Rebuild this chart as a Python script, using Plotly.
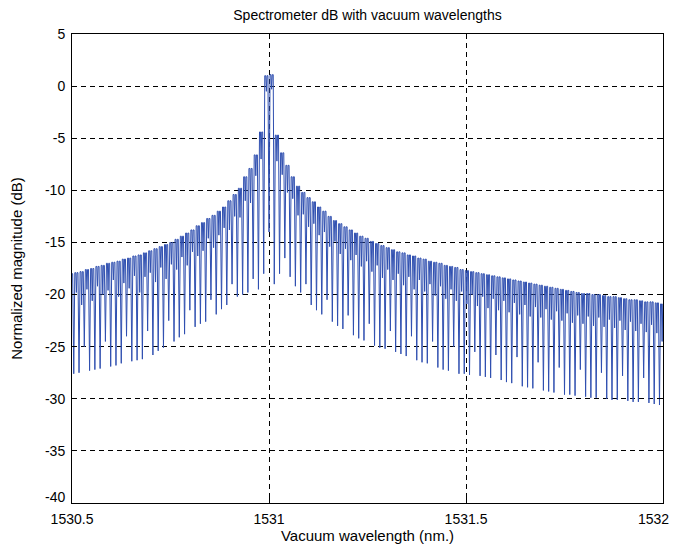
import numpy as np
import plotly.graph_objects as go

# ---- data ----
# Fringe spacing of the spectrum (nm) and the wavelength of the central dip
FRINGE_PERIOD_NM = 0.013393
CENTER_DIP_NM = 1531.0
CENTER_INDEX = 37

# Top (maximum) level of each fringe, dB, left to right
top_db = [
    -18.0, -17.9, -17.8, -17.6, -17.5, -17.3, -17.2, -17.0, -16.9, -16.8,
    -16.6, -16.5, -16.3, -16.2, -16.0, -15.8, -15.6, -15.4, -15.2, -15.0,
    -14.7, -14.4, -14.1, -13.8, -13.4, -13.1, -12.7, -12.4, -12.0, -11.6,
    -11.0, -10.4, -9.8, -8.7, -7.9, -6.6, -4.4, 1.0, 1.1, -4.7,
    -6.4, -7.6, -8.7, -9.6, -10.2, -10.7, -11.1, -11.6, -12.0, -12.5,
    -12.9, -13.2, -13.5, -13.8, -14.1, -14.4, -14.6, -14.9, -15.1, -15.3,
    -15.5, -15.7, -15.9, -16.0, -16.2, -16.3, -16.5, -16.6, -16.8, -16.9,
    -17.0, -17.2, -17.3, -17.4, -17.6, -17.7, -17.8, -17.9, -18.0, -18.1,
    -18.2, -18.3, -18.4, -18.5, -18.6, -18.7, -18.8, -18.9, -19.0, -19.1,
    -19.2, -19.3, -19.4, -19.5, -19.6, -19.7, -19.8, -19.9, -19.9, -20.0,
    -20.0, -20.1, -20.2, -20.2, -20.3, -20.4, -20.5, -20.5, -20.6, -20.7,
    -20.7, -20.8, -20.9,
]

# Small dip in the middle of each fringe top, dB
notch_db = [
    -20.5, -19.8, -21.0, -19.5, -20.6, -19.2, -20.0, -19.6, -18.6, -20.2,
    -18.9, -19.4, -18.2, -19.8, -18.3, -17.9, -18.8, -17.4, -18.5, -17.1,
    -17.6, -16.4, -17.2, -15.9, -16.3, -15.8, -14.6, -15.5, -14.3, -13.6,
    -13.8, -12.5, -12.6, -11.0, -11.2, -8.6, -7.0, -0.5, -0.3, -7.2,
    -8.5, -10.2, -10.8, -12.4, -12.3, -13.5, -13.2, -14.3, -14.0, -15.4,
    -14.9, -16.1, -15.6, -16.7, -16.2, -17.3, -16.8, -17.8, -17.2, -18.4,
    -17.6, -18.6, -18.0, -19.1, -18.3, -19.5, -18.6, -19.7, -19.0, -20.1,
    -19.2, -20.4, -19.5, -20.6, -19.7, -20.9, -20.0, -21.1, -20.2, -21.3,
    -20.4, -21.5, -20.6, -21.7, -20.8, -21.9, -21.0, -22.1, -21.2, -22.2,
    -21.4, -22.4, -21.6, -22.5, -21.8, -22.7, -22.0, -22.8, -22.1, -23.0,
    -22.2, -23.1, -22.4, -23.2, -22.5, -23.4, -22.6, -23.5, -22.8, -23.6,
    -22.9, -23.7, -24.5,
]

# Bottom (deep dip) level after each fringe, dB, left to right
dip_db = [
    -27.6, -27.5, -25.0, -27.3, -27.2, -27.1, -24.5, -26.9, -26.8, -26.6,
    -24.0, -26.4, -26.3, -26.2, -23.5, -25.8, -25.4, -25.1, -22.5, -24.5,
    -24.1, -23.8, -21.5, -23.1, -22.8, -22.6, -20.5, -21.9, -21.4, -21.0,
    -19.0, -20.2, -20.0, -19.8, -18.5, -19.5, -18.0, -14.0, -19.0, -18.0,
    -16.5, -18.3, -19.2, -19.8, -19.0, -21.0, -21.5, -21.9, -20.5, -22.6,
    -23.0, -23.3, -22.0, -23.9, -24.2, -24.4, -22.8, -24.9, -25.1, -25.2,
    -23.5, -25.5, -25.7, -25.9, -24.0, -26.3, -26.5, -26.6, -24.5, -27.0,
    -27.2, -27.3, -25.0, -27.6, -27.6, -27.7, -25.5, -27.8, -27.9, -28.0,
    -25.8, -28.2, -28.4, -28.5, -26.0, -28.8, -28.9, -29.0, -26.5, -29.2,
    -29.3, -29.4, -27.0, -29.6, -29.6, -29.7, -27.2, -29.8, -29.9, -29.9,
    -27.5, -30.0, -30.1, -30.1, -27.8, -30.2, -30.3, -30.3, -28.0, -30.4,
    -30.5, -30.6,
]

x_tick_vals = [1530.5, 1531, 1531.5, 1532]
x_tick_text = ["1530.5", "1531", "1531.5", ""]
x_right_label = "1532"
y_tick_vals = [5, 0, -5, -10, -15, -20, -25, -30, -35, -40]
y_tick_text = ["5", "0", "-5", "-10", "-15", "-20", "-25", "-30", "-35", ""]
y_bottom_label = "-40"

# ---- build the trace: each fringe = two-humped top followed by a narrow dip ----
wl, db = [], []
for m, top in enumerate(top_db):
    c = CENTER_DIP_NM + (m - CENTER_INDEX - 0.5) * FRINGE_PERIOD_NM
    p = FRINGE_PERIOD_NM
    wl += [c - 0.3 * p, c - 0.12 * p, c, c + 0.12 * p, c + 0.3 * p]
    db += [top, top, notch_db[m], top, top]
    if m < len(dip_db):
        wl.append(c + 0.5 * p)
        db.append(dip_db[m])

fig = go.Figure()
fig.add_trace(go.Scatter(
    x=wl, y=db, mode="lines",
    line=dict(color="#2f4fb0", width=1),
    hoverinfo="skip", showlegend=False,
))

font_family = "Liberation Sans, Arial, sans-serif"
tick_font = dict(family=font_family, size=14, color="black")
axis_common = dict(
    showline=True, linecolor="black", linewidth=1, mirror="ticks",
    ticks="inside", ticklen=5, tickcolor="black",
    showgrid=True, gridcolor="black", gridwidth=0.8, griddash="5px,4px",
    zeroline=False, automargin=False,
    tickfont=tick_font,
)

# The page body adds an 8 px offset on every side, so the figure is made
# smaller to fit the window without scrollbars.
fig.update_layout(
    width=672, height=536,
    margin=dict(l=64, r=17, t=26, b=41),
    paper_bgcolor="white", plot_bgcolor="white",
    title=dict(text="Spectrometer dB with vacuum wavelengths",
               xref="paper", x=0.5, xanchor="center",
               yref="container", y=1 - 2 / 536, yanchor="top",
               font=dict(family=font_family, size=14, color="black")),
    xaxis=dict(range=[1530.5, 1532], tickvals=x_tick_vals, ticktext=x_tick_text,
               ticklabelstandoff=3,
               title=dict(text="Vacuum wavelength (nm.)", standoff=5,
                          font=dict(family=font_family, size=15, color="black")),
               **axis_common),
    yaxis=dict(range=[-40, 5], tickvals=y_tick_vals, ticktext=y_tick_text,
               ticklabelstandoff=3,
               title=dict(text="Normalized magnitude (dB)", standoff=18,
                          font=dict(family=font_family, size=15, color="black")),
               **axis_common),
)

# Corner labels placed as MATLAB does (shifted away from the neighbouring labels)
fig.add_annotation(
    text=y_bottom_label, xref="paper", x=0, xanchor="right", xshift=-5,
    yref="y", y=-40, yanchor="middle", yshift=6, showarrow=False,
    font=tick_font,
)
fig.add_annotation(
    text=x_right_label, xref="x", x=1532, xanchor="right", xshift=8,
    yref="paper", y=0, yanchor="middle", yshift=-16, showarrow=False,
    font=tick_font,
)

fig.write_html("out.html")
